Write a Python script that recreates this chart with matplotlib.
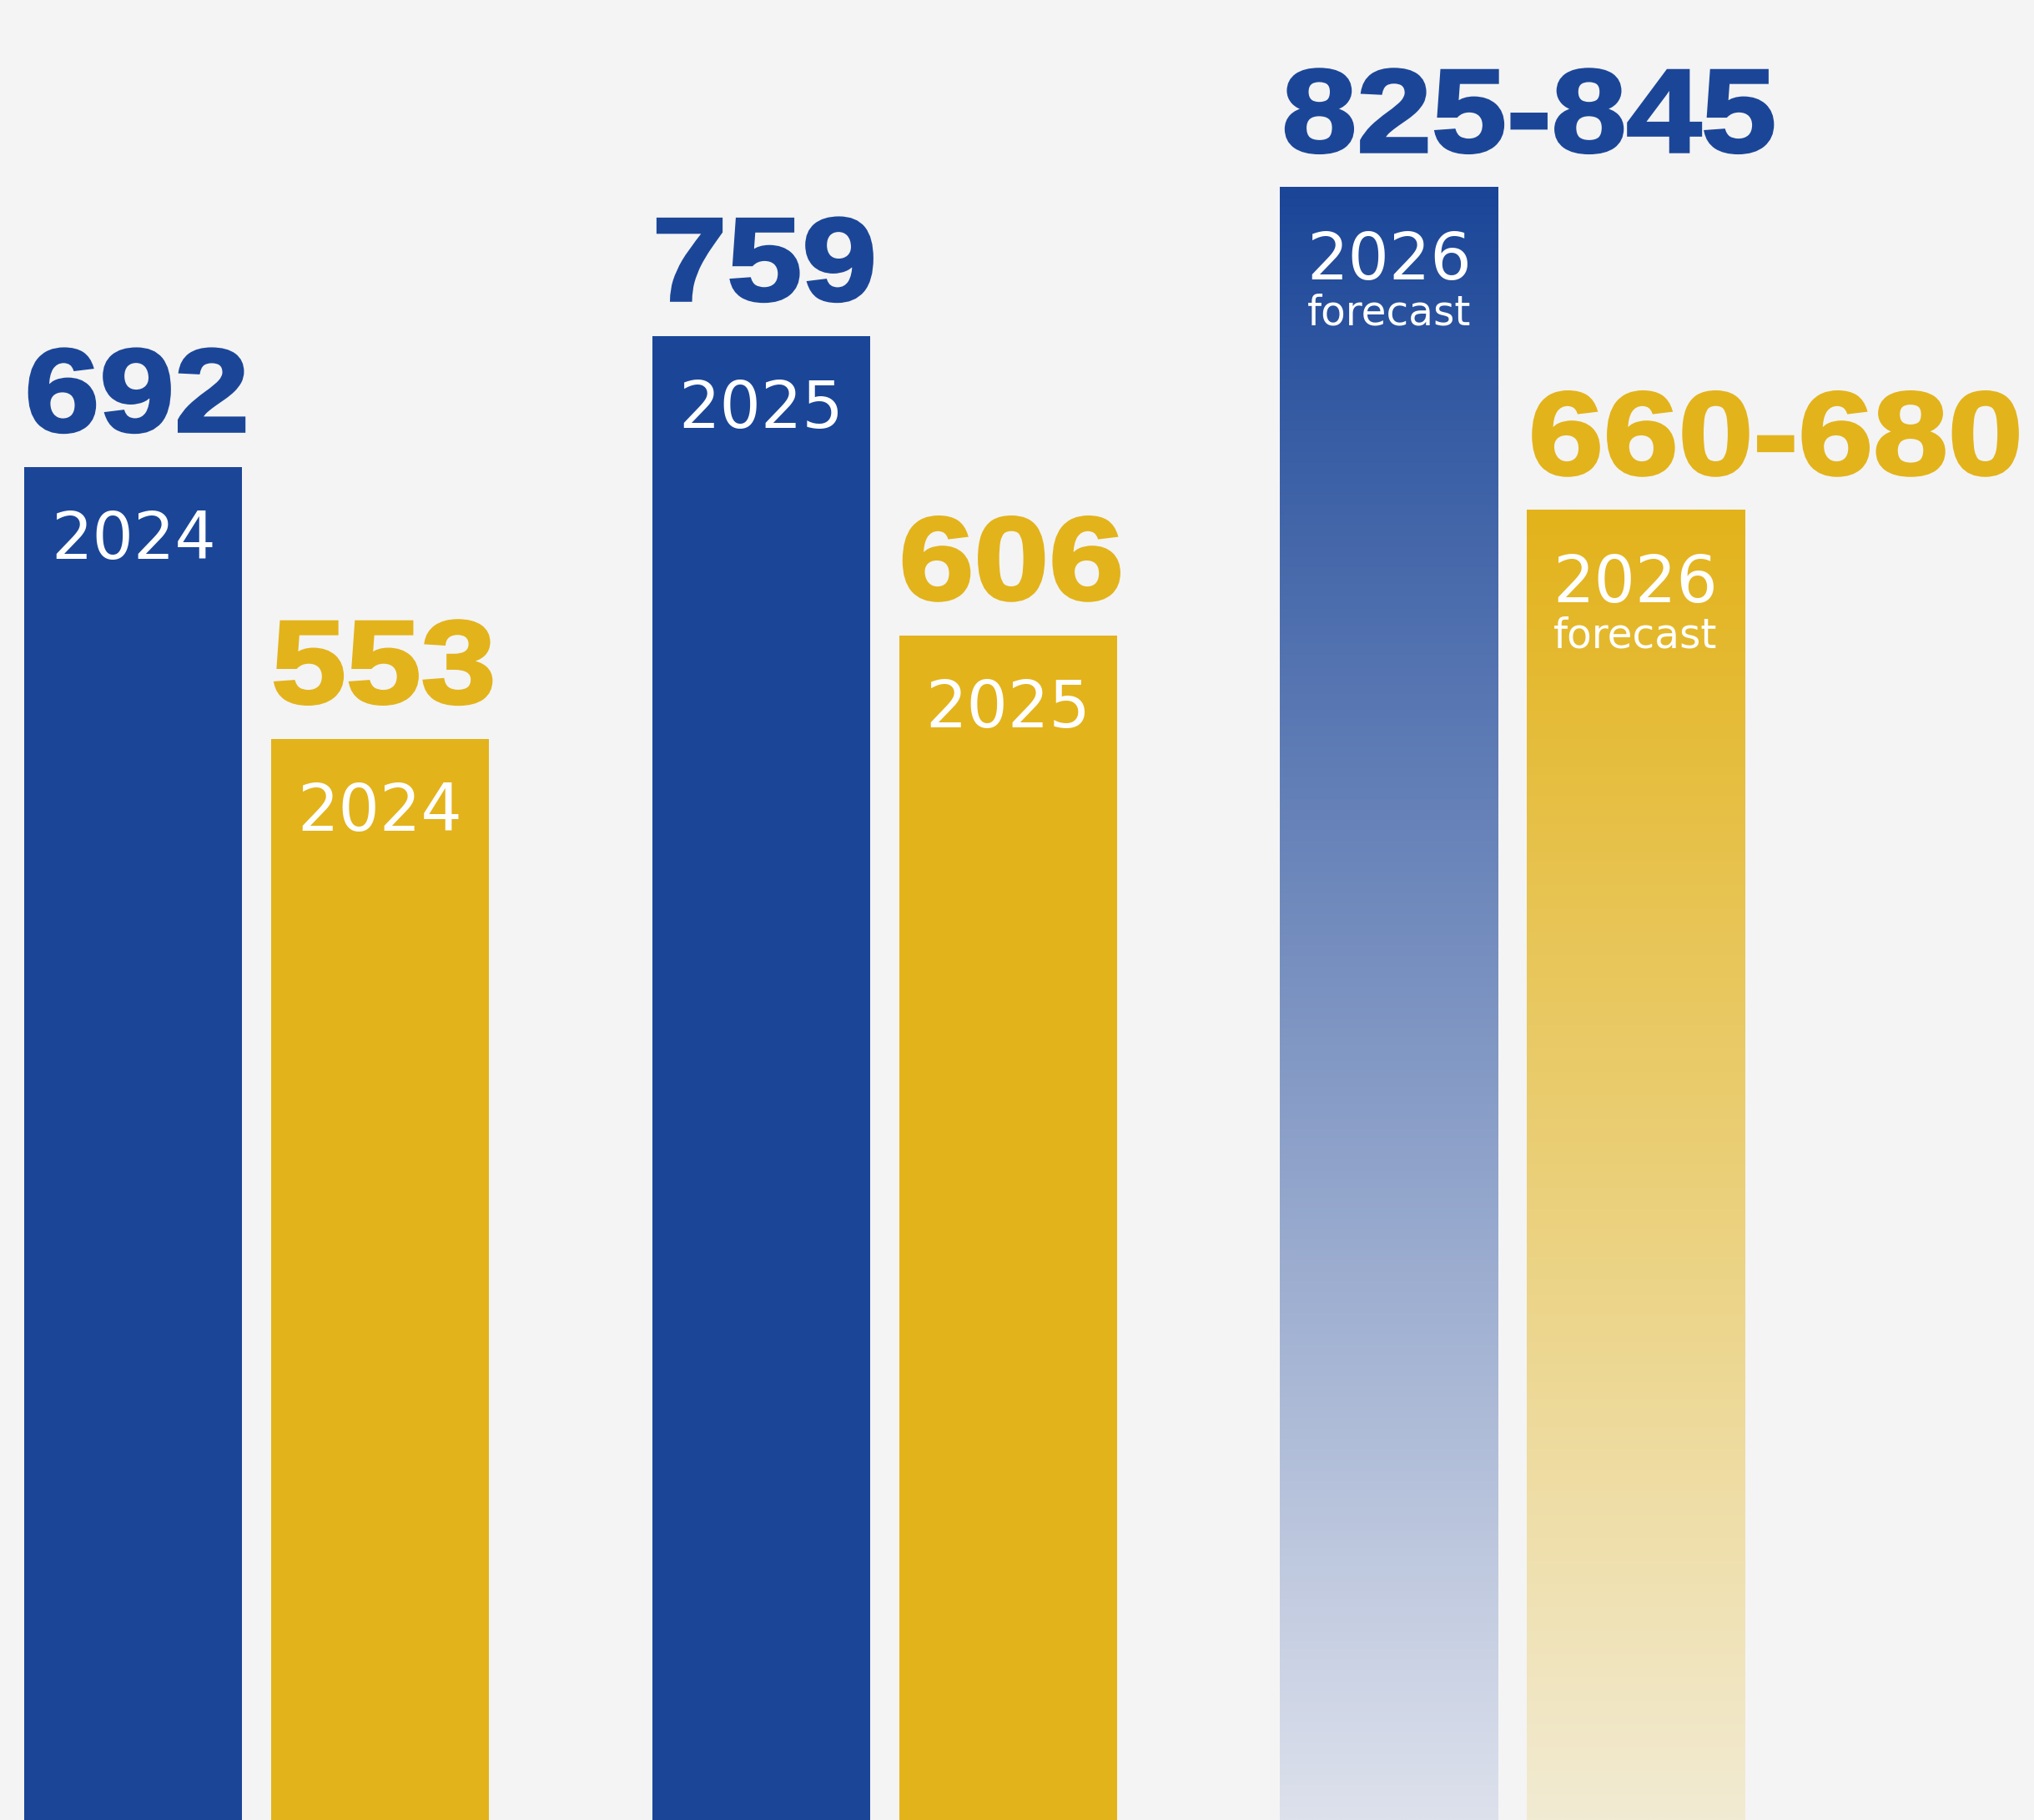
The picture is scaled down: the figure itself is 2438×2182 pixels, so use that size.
import numpy as np
import matplotlib.pyplot as plt
import matplotlib.patheffects as pe
from matplotlib.colors import to_rgb
from matplotlib.transforms import Affine2D

# values per year, two series
years = ['2024', '2025', '2026']
blue_vals = [692, 759, 835]          # 2026 is the midpoint of the forecast range
yellow_vals = [553, 606, 670]
blue_labels = ['692', '759', '825-845']
yellow_labels = ['553', '606', '660-680']
forecast = [False, False, True]

BLUE = '#1b4698'
YELLOW = '#e3b31b'
BLUE_FADE = '#dde1ec'
YELLOW_FADE = '#f2ebd3'
BG = '#f4f4f4'

width = 0.347
shift = 0.1965


class Widen(pe.AbstractPathEffect):
    """Stretch text horizontally and fatten it with a mitred outline."""

    def __init__(self, sx, anchor='center', **gc_kw):
        super().__init__()
        self.sx = sx
        self.anchor = anchor
        self.gc_kw = gc_kw

    def draw_path(self, renderer, gc, tpath, affine, rgbFace=None):
        ext = tpath.get_extents()
        cx = ext.x0 + ext.width / 2 if self.anchor == 'center' else ext.x0
        t = Affine2D().translate(-cx, 0).scale(self.sx, 1).translate(cx, 0) + affine
        gc0 = renderer.new_gc()
        gc0.copy_properties(gc)
        gc0 = self._update_gc(gc0, self.gc_kw)
        renderer.draw_path(gc0, tpath, t, rgbFace)
        gc0.restore()


def gradient_bar(ax, x, h, top, bottom):
    c0 = np.array(to_rgb(top))
    c1 = np.array(to_rgb(bottom))
    t = np.linspace(0, 1, 256)[:, None]
    img = (c0 * (1 - t) + c1 * t)[:, None, :]
    ax.imshow(img, extent=[x - width / 2, x + width / 2, 0, h],
              origin='upper', aspect='auto', interpolation='bilinear', zorder=2)


fig = plt.figure(figsize=(24.38, 21.82), dpi=100, facecolor=BG)
ax = fig.add_axes([0, 0, 1, 1])
ax.set_facecolor(BG)

for i, yr in enumerate(years):
    for x, v, lab, col, fade in [(i - shift, blue_vals[i], blue_labels[i], BLUE, BLUE_FADE),
                                 (i + shift, yellow_vals[i], yellow_labels[i], YELLOW, YELLOW_FADE)]:
        if forecast[i]:
            gradient_bar(ax, x, v, col, fade)
            tx, ha = x - width / 2, 'left'
        else:
            ax.bar(x, v, width=width, color=col, zorder=2)
            tx, ha = x, 'center'

        # big value above the bar
        widen = Widen(1.14, anchor=ha, linewidth=2.5, foreground=col, joinstyle='miter')
        ax.annotate(lab, (tx, v), xytext=(2 if ha == 'left' else 3, 31),
                    textcoords='offset points', ha=ha, va='baseline', color=col,
                    family='Liberation Sans', fontweight='bold', fontsize=102,
                    path_effects=[widen], zorder=3, annotation_clip=False)

        # year inside the bar
        ax.annotate(yr, (x, v), xytext=(0, -36), textcoords='offset points',
                    ha='center', va='top', color='white', fontsize=56,
                    family='DejaVu Sans', zorder=3)
        if forecast[i]:
            ax.annotate('forecast', (x, v), xytext=(0, -91), textcoords='offset points',
                        ha='center', va='top', color='white', fontsize=35,
                        family='DejaVu Sans', zorder=3)

ax.set_xlim(-0.409, 2.831)
ax.set_ylim(0, 931)
ax.axis('off')

fig.savefig('out.png', dpi=100, facecolor=BG)
